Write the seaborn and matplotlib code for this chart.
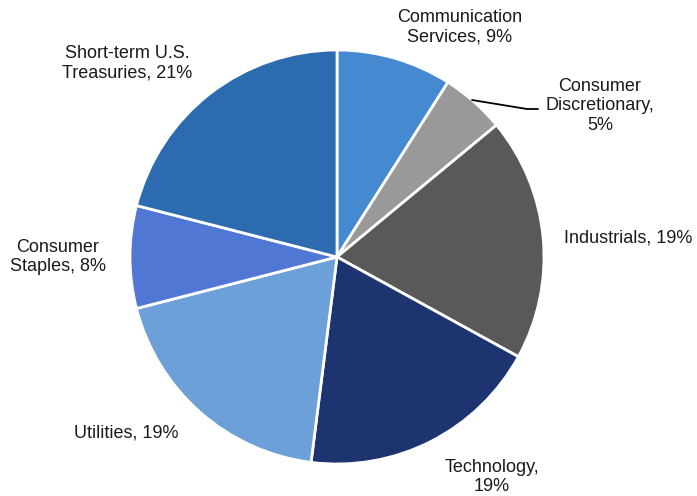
import matplotlib
matplotlib.use("Agg")
import matplotlib.pyplot as plt
import seaborn as sns

# sector weights, clockwise from 12 o'clock
sectors = ["Communication Services", "Consumer Discretionary", "Industrials",
           "Technology", "Utilities", "Consumer Staples", "Short-term U.S. Treasuries"]
weights = [9, 5, 19, 19, 19, 8, 21]
labels = ["Communication\nServices, 9%", "Consumer\nDiscretionary,\n5%", "Industrials, 19%",
          "Technology,\n19%", "Utilities, 19%", "Consumer\nStaples, 8%",
          "Short-term U.S.\nTreasuries, 21%"]
colors = ["#4589d1", "#999999", "#595959", "#1d3470", "#6ba0d9", "#5077d4", "#2c6bb0"]

sns.set_theme(style="white")
plt.rcParams["font.family"] = ["Liberation Sans", "DejaVu Sans"]

W, H = 697, 496
fig = plt.figure(figsize=(W / 100, H / 100), dpi=100)
ax = fig.add_axes([0, 0, 1, 1])

cx, cy, r = 337, H - 257, 207
ax.pie(weights, colors=sns.color_palette(colors), startangle=90, counterclock=False,
       center=(cx, cy), radius=r, frame=True,
       wedgeprops=dict(edgecolor="white", linewidth=2))
ax.set_xlim(0, W)
ax.set_ylim(0, H)
ax.set_aspect("equal")
ax.axis("off")

# label placement (pixel coords, from top)
label_pos = [(460, 27), (600, 106), (628, 238), (492, 477), (126, 433), (58, 257), (127, 63)]
for lab, (x, y) in zip(labels, label_pos):
    ax.text(x, H - y, lab, ha="center", va="center", fontsize=13,
            color="#1a1a1a", linespacing=1.2)

# leader line for the small slice
ax.plot([472, 527, 538], [H - 100, H - 109, H - 109], color="black", lw=1.3)

fig.savefig("out.png", dpi=100)
